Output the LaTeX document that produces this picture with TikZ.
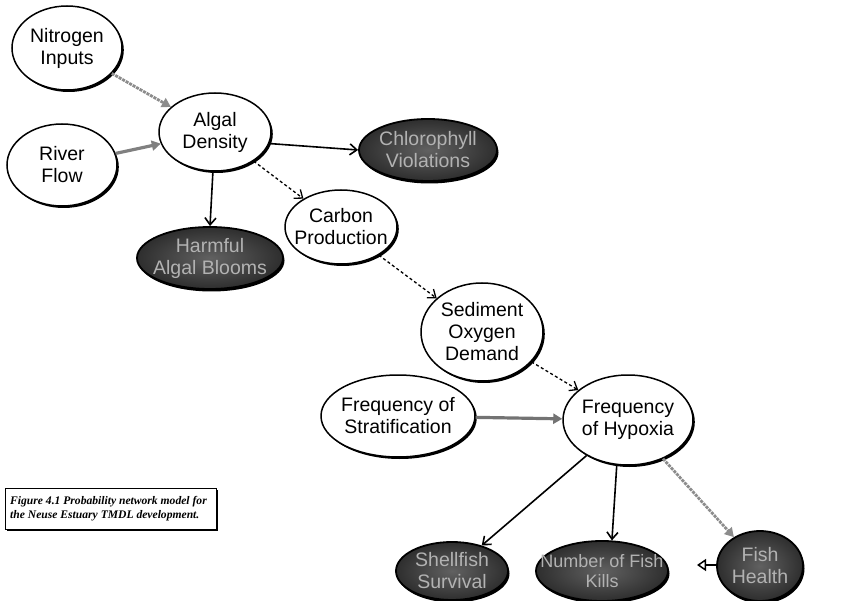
\documentclass[tikz,border=0pt]{standalone}
\usepackage{fontspec}
\setmainfont{Liberation Sans}
\newfontfamily\capfont{Liberation Serif}
\usetikzlibrary{shapes.geometric,arrows.meta,shadows}
\begin{document}
\begin{tikzpicture}[x=1pt,y=-1pt,
  every node/.style={font=\fontsize{19.5}{22}\selectfont, align=center},
  lightnode/.style={ellipse, inner sep=0pt, draw=black, line width=1.5pt, fill=white,
    drop shadow={shadow xshift=1.8pt, shadow yshift=-2pt, fill=black, opacity=1}},
  darknode/.style={ellipse, inner sep=0pt, draw=black, line width=1.8pt,
    inner color=black!62, outer color=black!82,
    drop shadow={shadow xshift=1.5pt, shadow yshift=-2.5pt, fill=black, opacity=1}},
  lighttext/.style={inner sep=0pt, text=black},
  darktext/.style={inner sep=0pt, text=black!30},
  solidlink/.style={draw=black, line width=1.6pt, -{Straight Barb[length=7pt,width=11pt]}},
  dashlink/.style={draw=black, line width=1.3pt, dash pattern=on 3pt off 2.5pt,
    -{Straight Barb[length=7pt,width=11pt]}},
  greylink/.style={draw=black!50, line width=3.2pt, -{Triangle[length=9pt,width=10pt]}},
  greydot/.style={draw=black!45, line width=2.8pt, dash pattern=on 3pt off 1pt,
    -{Triangle[length=9pt,width=10pt]}},
  openlink/.style={draw=black, line width=1.8pt, -{Triangle[open,length=9pt,width=12pt,line width=1.5pt]}}
]
\useasboundingbox (0,0) rectangle (848,601);

% light (state) nodes
\node[lightnode, minimum width=110pt, minimum height=84pt] (nit) at (67,48) {};
\node[lightnode, minimum width=110pt, minimum height=82pt] (riv) at (62,165) {};
\node[lightnode, minimum width=112pt, minimum height=78pt] (alg) at (215,132) {};
\node[lightnode, minimum width=112pt, minimum height=74pt] (car) at (341,227) {};
\node[lightnode, minimum width=122pt, minimum height=98pt] (sed) at (482,332) {};
\node[lightnode, minimum width=154pt, minimum height=82pt] (str) at (398,416) {};
\node[lightnode, minimum width=130pt, minimum height=90pt] (hyp) at (628,420) {};

% dark (outcome) nodes
\node[darknode, minimum width=138pt, minimum height=62pt] (chl) at (428,150) {};
\node[darknode, minimum width=146pt, minimum height=62pt] (hab) at (210,258) {};
\node[darknode, minimum width=112pt, minimum height=58pt] (shf) at (452,571) {};
\node[darknode, minimum width=132pt, minimum height=60pt] (kills) at (602,571) {};
\node[darknode, minimum width=86pt, minimum height=70pt] (fhe) at (760,566) {};

% words
\node[lighttext] (nit-t) at (nit) {Nitrogen\\Inputs};
\node[lighttext] (riv-t) at (riv) {River\\Flow};
\node[lighttext] (alg-t) at (alg) {Algal\\Density};
\node[lighttext] (car-t) at (car) {Carbon\\Production};
\node[lighttext] (sed-t) at (sed) {Sediment\\Oxygen\\Demand};
\node[lighttext] (str-t) at (str) {Frequency of\\Stratification};
\node[lighttext] (hyp-t) at (hyp) {Frequency\\of Hypoxia};
\node[darktext] (chl-t) at (chl) {Chlorophyll\\Violations};
\node[darktext] (hab-t) at (hab) {Harmful\\Algal Blooms};
\node[darktext] (shf-t) at (shf) {Shellfish\\Survival};
\node[darktext, font=\fontsize{18}{20}\selectfont] (kills-t) at (kills) {Number of Fish\\Kills};
\node[darktext] (fhe-t) at (fhe) {Fish\\Health};

% caption box
\node[draw=black, line width=1pt, fill=white, minimum width=211pt, minimum height=41pt,
  drop shadow={shadow xshift=1.5pt, shadow yshift=-1.5pt, fill=black, opacity=1},
  anchor=north west] (cap) at (5,488) {};
\node[font=\capfont\bfseries\itshape\fontsize{11.6}{14}\selectfont, align=left,
  inner sep=0pt, anchor=west] (captext) at ([xshift=5pt]cap.west)
  {Figure 4.1 Probability network model for\\the Neuse Estuary TMDL development.};

% links
\coordinate (fhtip) at (697,565);
\draw[greydot] (nit) -- (alg);
\draw[greylink] (riv) -- (alg);
\draw[solidlink] (alg.-12) -- (chl.west);
\draw[solidlink] (alg.-93) -- (hab.north);
\draw[dashlink] (alg) -- (car);
\draw[dashlink] (car) -- (sed);
\draw[dashlink] (sed) -- (hyp);
\draw[greylink, draw=black!55] (str) -- (hyp);
\draw[solidlink] (hyp) -- (shf);
\draw[solidlink] (hyp.256) -- (kills.72);
\draw[greydot] (hyp) -- (fhe);
\draw[openlink] (fhe.west |- fhtip) -- (fhtip);
\end{tikzpicture}
\end{document}
